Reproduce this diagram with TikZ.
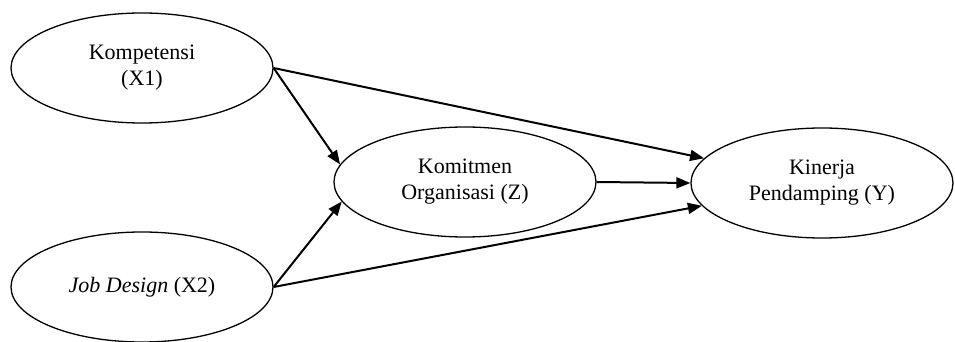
\documentclass[tikz,border=0pt]{standalone}
\usepackage{fontspec}
\setmainfont{Liberation Serif}
\usetikzlibrary{arrows.meta,shapes.geometric}

\begin{document}
\begin{tikzpicture}[x=0.5pt,y=-0.5pt]
\useasboundingbox (0,0) rectangle (955,342);
\begin{scope}[every node/.style={ellipse,draw,line width=0.65pt,minimum width=131pt,minimum height=55pt,inner sep=0pt,align=center,font=\fontsize{11}{13}\selectfont}]
    \node (kompetensi) at (142,68) {Kompetensi\\(X1)};
    \node (jobdesign) at (142,287) {\textit{Job Design} (X2)};
	\node (komitmen) at (465,182) {Komitmen\\Organisasi (Z)};
	\node (kinerja) at (822,183) {Kinerja\\Pendamping (Y)};

\end{scope}

\begin{scope}[>={Triangle[length=7pt,width=5.5pt]},
              every edge/.style={draw=black,line width=1pt}]
    \path [->] (kompetensi.east) edge (kinerja);
    \path [->] (kompetensi.east) edge (komitmen.172);
    \path [->] (jobdesign.east) edge (komitmen.189);
    \path [->] (jobdesign.east) edge (kinerja);
    \path [->] (komitmen.east) edge (kinerja.west);

    	
\end{scope}
\end{tikzpicture}
\end{document}
